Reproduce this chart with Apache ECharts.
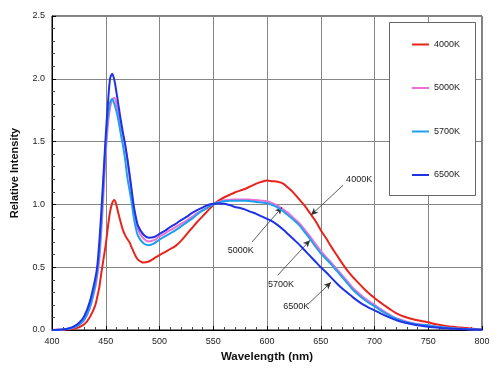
<!DOCTYPE html>
<html><head><meta charset="utf-8">
<script src="https://cdn.jsdelivr.net/npm/echarts@6/dist/echarts.min.js"></script>
<style>html,body{margin:0;padding:0;background:#fff}#c{width:500px;height:372px}</style>
</head><body><div id="c"></div>
<script>
const wavelength = [400,405,410,415,420,425,430,435,440,
442,444,446,448,450,452,454,456,458,460,462,464,466,468,470,472,474,476,478,480,
485,490,495,500,505,510,515,520,525,530,535,540,545,550,555,560,565,570,575,580,585,590,595,600,605,610,615,620,625,630,635,640,645,650,655,660,665,670,675,680,685,690,695,700,705,710,715,720,725,730,735,740,745,750,755,760,765,770,775,780,785,790,795,800];

const k4000 = [0,0.001,0.002,0.005,0.01,0.022,0.045,0.1,0.19,
0.26,0.34,0.46,0.57,0.68,0.82,0.94,1.01,1.035,0.99,0.92,0.855,0.795,0.755,0.725,0.70,0.66,0.62,0.585,0.56,
0.537,0.545,0.57,0.596,0.62,0.645,0.67,0.71,0.76,0.81,0.86,0.905,0.95,0.995,1.03,1.055,1.075,1.095,1.11,1.125,1.145,1.165,1.18,1.19,1.185,1.18,1.165,1.13,1.09,1.04,0.99,0.93,0.87,0.795,0.73,0.66,0.595,0.53,0.47,0.42,0.375,0.33,0.29,0.255,0.222,0.192,0.162,0.135,0.115,0.1,0.088,0.078,0.07,0.062,0.05,0.041,0.034,0.028,0.024,0.02,0.015,0.011,0.008,0.005];

const k5000 = [0,0.001,0.004,0.009,0.02,0.04,0.08,0.17,0.33,
0.43,0.56,0.8,1.1,1.4,1.63,1.77,1.83,1.85,1.8,1.72,1.63,1.55,1.47,1.36,1.23,1.1,0.98,0.88,0.8,
0.73,0.705,0.715,0.745,0.77,0.795,0.82,0.845,0.87,0.9,0.93,0.955,0.98,1.0,1.02,1.032,1.038,1.04,1.04,1.04,1.038,1.035,1.03,1.025,1.01,0.99,0.96,0.93,0.89,0.85,0.8,0.745,0.685,0.63,0.58,0.535,0.485,0.435,0.385,0.335,0.295,0.258,0.228,0.2,0.17,0.142,0.117,0.095,0.08,0.066,0.056,0.047,0.042,0.039,0.032,0.026,0.021,0.017,0.013,0.01,0.008,0.006,0.004,0.003];

const k5700 = [0,0.001,0.004,0.009,0.02,0.04,0.082,0.175,0.35,
0.46,0.62,0.88,1.2,1.48,1.7,1.81,1.84,1.8,1.74,1.66,1.56,1.47,1.36,1.22,1.12,1.02,0.9,0.81,0.75,
0.69,0.675,0.69,0.72,0.745,0.77,0.795,0.825,0.855,0.885,0.92,0.95,0.975,1.0,1.015,1.025,1.03,1.03,1.03,1.03,1.025,1.02,1.015,1.01,0.995,0.975,0.945,0.91,0.875,0.835,0.78,0.725,0.665,0.61,0.565,0.52,0.47,0.42,0.37,0.32,0.28,0.245,0.215,0.19,0.16,0.135,0.11,0.09,0.075,0.062,0.052,0.044,0.04,0.037,0.03,0.024,0.019,0.015,0.012,0.009,0.007,0.005,0.004,0.003];

const k6500 = [0,0.002,0.005,0.012,0.027,0.055,0.11,0.22,0.4,
0.5,0.7,0.96,1.25,1.55,1.8,2.0,2.04,1.99,1.89,1.78,1.67,1.57,1.48,1.37,1.25,1.12,0.99,0.9,0.83,
0.76,0.735,0.74,0.765,0.79,0.82,0.845,0.875,0.9,0.93,0.955,0.975,0.995,1.005,1.008,1.005,0.995,0.98,0.972,0.958,0.94,0.925,0.905,0.885,0.865,0.835,0.8,0.76,0.72,0.68,0.635,0.59,0.545,0.5,0.46,0.415,0.37,0.33,0.295,0.26,0.228,0.2,0.177,0.157,0.135,0.115,0.097,0.08,0.066,0.055,0.045,0.037,0.031,0.026,0.021,0.017,0.014,0.011,0.009,0.007,0.005,0.004,0.003,0.002];

const seriesNames = ['4000K','5000K','5700K','6500K'];
const seriesColors = ['#e8251c','#ee6fd6','#1ea0ee','#1f33e6'];
const seriesValues = [k4000,k5000,k5700,k6500];
const xTicks = {min:400, max:800, interval:50};
const yTicks = {min:0, max:2.5, interval:0.5};

// annotations: [label, text anchor (data), arrow start (data), arrow end (data)]
const annotations = [
  ['4000K',[673.6,1.20],[670.8,1.153],[641,0.915]],
  ['5000K',[563.5,0.63],[586,0.70],[614,0.978]],
  ['5700K',[601,0.365],[610,0.436],[640,0.715]],
  ['6500K',[615,0.188],[638,0.204],[659.6,0.38]]
];

const FONT = 'Liberation Sans, Arial, sans-serif';
const chart = echarts.init(document.getElementById('c'), null, {renderer:'canvas'});

const series = seriesNames.map((n,i)=>({
  name:n, type:'line', data: wavelength.map((w,j)=>[w, seriesValues[i][j]]),
  showSymbol:false, smooth:0.3, lineStyle:{color:seriesColors[i], width:2}, itemStyle:{color:seriesColors[i]},
  z: 3+i, animation:false
}));

series.push({
  type:'line', data:[], animation:false, silent:true,
  markLine:{
    silent:true, animation:false, symbol:['none','arrow'], symbolSize:[5,7],
    lineStyle:{color:'#333', width:0.8, type:'solid'}, label:{show:false},
    data: annotations.map(a=>[{coord:a[2]},{coord:a[3]}])
  }
});

const boxRect = {
  type:'rect', left:389, top:22, z:10,
  shape:{width:86, height:173},
  style:{fill:'#fff', stroke:'#666', lineWidth:1}
};

chart.setOption({
  backgroundColor:'#fff',
  animation:false,
  grid:{left:52, right:18, top:16, bottom:42, show:true, borderColor:'#000', borderWidth:1},
  xAxis:{
    type:'value', min:xTicks.min, max:xTicks.max, interval:xTicks.interval,
    name:'Wavelength (nm)', nameLocation:'middle', nameGap:20,
    nameTextStyle:{fontFamily:FONT, fontWeight:'bold', fontSize:11.5, color:'#111'},
    axisLine:{lineStyle:{color:'#000', width:1}},
    axisTick:{show:true, inside:true, length:4, lineStyle:{color:'#000'}},
    minorTick:{show:true, splitNumber:5, length:3, lineStyle:{color:'#444'}},
    axisLabel:{fontFamily:FONT, fontSize:9, color:'#222', margin:7},
    splitLine:{show:true, lineStyle:{color:'#858585', width:1}}
  },
  yAxis:{
    type:'value', min:yTicks.min, max:yTicks.max, interval:yTicks.interval,
    name:'Relative Intensity', nameLocation:'middle', nameGap:32,
    nameTextStyle:{fontFamily:FONT, fontWeight:'bold', fontSize:11, color:'#111'},
    axisLine:{show:true, lineStyle:{color:'#000', width:1}},
    axisTick:{show:true, inside:true, length:4, lineStyle:{color:'#000'}},
    minorTick:{show:true, splitNumber:5, length:3, lineStyle:{color:'#444'}},
    axisLabel:{fontFamily:FONT, fontSize:9, color:'#222', margin:7, formatter:v=>v.toFixed(1)},
    splitLine:{show:true, lineStyle:{color:'#858585', width:1}}
  },
  legend:{
    data:seriesNames, orient:'vertical', left:407, top:35,
    itemWidth:17, itemHeight:2, icon:'rect', itemGap:34.5,
    textStyle:{fontFamily:FONT, fontSize:9, color:'#222'},
    z:20
  },
  graphic:[boxRect],
  series: series
});

const texts = annotations.map(a=>{
  const p = chart.convertToPixel({gridIndex:0}, a[1]);
  return {type:'text', x:p[0], y:p[1], z:30,
    style:{text:a[0], fontFamily:FONT, fontSize:9, fill:'#222', textAlign:'left', textVerticalAlign:'middle'}};
});
chart.setOption({graphic:[boxRect].concat(texts)}, {replaceMerge:['graphic']});
</script></body></html>
